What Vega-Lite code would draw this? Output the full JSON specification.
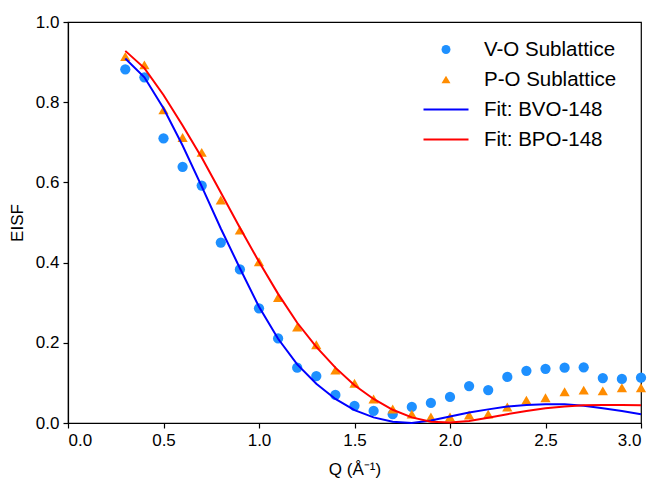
{
  "$schema": "https://vega.github.io/schema/vega-lite/v6.json",
  "width": 573,
  "height": 401,
  "autosize": {"type": "none"},
  "padding": {"left": 68, "top": 22, "right": 13, "bottom": 56},
  "background": "white",
  "config": {
    "view": {"stroke": "black", "strokeWidth": 1.2},
    "font": "Liberation Sans",
    "axis": {
      "grid": false,
      "domainColor": "black",
      "domainWidth": 1.2,
      "tickColor": "black",
      "tickWidth": 1.2,
      "tickSize": 5,
      "labelColor": "black",
      "titleColor": "black",
      "labelFont": "Liberation Sans",
      "titleFont": "Liberation Sans",
      "labelFontSize": 17,
      "titleFontSize": 17,
      "titleFontWeight": "normal",
      "labelPadding": 4
    },
    "legend": {
      "labelFont": "Liberation Sans",
      "labelFontSize": 20.5,
      "labelColor": "black",
      "padding": 0,
      "clipHeight": 21,
      "rowPadding": 9,
      "symbolOpacity": 1
    }
  },
  "data": {
    "values": [
      {"Q": 0.3, "EISF": 0.882, "series": "V-O Sublattice"},
      {"Q": 0.4, "EISF": 0.862, "series": "V-O Sublattice"},
      {"Q": 0.5, "EISF": 0.71, "series": "V-O Sublattice"},
      {"Q": 0.6, "EISF": 0.639, "series": "V-O Sublattice"},
      {"Q": 0.7, "EISF": 0.592, "series": "V-O Sublattice"},
      {"Q": 0.8, "EISF": 0.45, "series": "V-O Sublattice"},
      {"Q": 0.9, "EISF": 0.383, "series": "V-O Sublattice"},
      {"Q": 1.0, "EISF": 0.286, "series": "V-O Sublattice"},
      {"Q": 1.1, "EISF": 0.211, "series": "V-O Sublattice"},
      {"Q": 1.2, "EISF": 0.138, "series": "V-O Sublattice"},
      {"Q": 1.3, "EISF": 0.117, "series": "V-O Sublattice"},
      {"Q": 1.4, "EISF": 0.07, "series": "V-O Sublattice"},
      {"Q": 1.5, "EISF": 0.043, "series": "V-O Sublattice"},
      {"Q": 1.6, "EISF": 0.03, "series": "V-O Sublattice"},
      {"Q": 1.7, "EISF": 0.022, "series": "V-O Sublattice"},
      {"Q": 1.8, "EISF": 0.04, "series": "V-O Sublattice"},
      {"Q": 1.9, "EISF": 0.05, "series": "V-O Sublattice"},
      {"Q": 2.0, "EISF": 0.065, "series": "V-O Sublattice"},
      {"Q": 2.1, "EISF": 0.092, "series": "V-O Sublattice"},
      {"Q": 2.2, "EISF": 0.082, "series": "V-O Sublattice"},
      {"Q": 2.3, "EISF": 0.115, "series": "V-O Sublattice"},
      {"Q": 2.4, "EISF": 0.13, "series": "V-O Sublattice"},
      {"Q": 2.5, "EISF": 0.135, "series": "V-O Sublattice"},
      {"Q": 2.6, "EISF": 0.138, "series": "V-O Sublattice"},
      {"Q": 2.7, "EISF": 0.139, "series": "V-O Sublattice"},
      {"Q": 2.8, "EISF": 0.112, "series": "V-O Sublattice"},
      {"Q": 2.9, "EISF": 0.11, "series": "V-O Sublattice"},
      {"Q": 3.0, "EISF": 0.113, "series": "V-O Sublattice"},
      {"Q": 0.3, "EISF": 0.914, "series": "P-O Sublattice"},
      {"Q": 0.4, "EISF": 0.893, "series": "P-O Sublattice"},
      {"Q": 0.5, "EISF": 0.781, "series": "P-O Sublattice"},
      {"Q": 0.6, "EISF": 0.712, "series": "P-O Sublattice"},
      {"Q": 0.7, "EISF": 0.675, "series": "P-O Sublattice"},
      {"Q": 0.8, "EISF": 0.556, "series": "P-O Sublattice"},
      {"Q": 0.9, "EISF": 0.481, "series": "P-O Sublattice"},
      {"Q": 1.0, "EISF": 0.402, "series": "P-O Sublattice"},
      {"Q": 1.1, "EISF": 0.313, "series": "P-O Sublattice"},
      {"Q": 1.2, "EISF": 0.239, "series": "P-O Sublattice"},
      {"Q": 1.3, "EISF": 0.195, "series": "P-O Sublattice"},
      {"Q": 1.4, "EISF": 0.132, "series": "P-O Sublattice"},
      {"Q": 1.5, "EISF": 0.099, "series": "P-O Sublattice"},
      {"Q": 1.6, "EISF": 0.06, "series": "P-O Sublattice"},
      {"Q": 1.7, "EISF": 0.035, "series": "P-O Sublattice"},
      {"Q": 1.8, "EISF": 0.022, "series": "P-O Sublattice"},
      {"Q": 1.9, "EISF": 0.015, "series": "P-O Sublattice"},
      {"Q": 2.0, "EISF": 0.015, "series": "P-O Sublattice"},
      {"Q": 2.1, "EISF": 0.02, "series": "P-O Sublattice"},
      {"Q": 2.2, "EISF": 0.022, "series": "P-O Sublattice"},
      {"Q": 2.3, "EISF": 0.04, "series": "P-O Sublattice"},
      {"Q": 2.4, "EISF": 0.057, "series": "P-O Sublattice"},
      {"Q": 2.5, "EISF": 0.063, "series": "P-O Sublattice"},
      {"Q": 2.6, "EISF": 0.078, "series": "P-O Sublattice"},
      {"Q": 2.7, "EISF": 0.082, "series": "P-O Sublattice"},
      {"Q": 2.8, "EISF": 0.08, "series": "P-O Sublattice"},
      {"Q": 2.9, "EISF": 0.088, "series": "P-O Sublattice"},
      {"Q": 3.0, "EISF": 0.088, "series": "P-O Sublattice"},
      {"Q": 0.3, "EISF": 0.909, "series": "Fit: BVO-148"},
      {"Q": 0.4, "EISF": 0.862, "series": "Fit: BVO-148"},
      {"Q": 0.5, "EISF": 0.785, "series": "Fit: BVO-148"},
      {"Q": 0.6, "EISF": 0.692, "series": "Fit: BVO-148"},
      {"Q": 0.7, "EISF": 0.59, "series": "Fit: BVO-148"},
      {"Q": 0.8, "EISF": 0.485, "series": "Fit: BVO-148"},
      {"Q": 0.9, "EISF": 0.386, "series": "Fit: BVO-148"},
      {"Q": 1.0, "EISF": 0.29, "series": "Fit: BVO-148"},
      {"Q": 1.1, "EISF": 0.21, "series": "Fit: BVO-148"},
      {"Q": 1.2, "EISF": 0.146, "series": "Fit: BVO-148"},
      {"Q": 1.3, "EISF": 0.098, "series": "Fit: BVO-148"},
      {"Q": 1.4, "EISF": 0.06, "series": "Fit: BVO-148"},
      {"Q": 1.5, "EISF": 0.032, "series": "Fit: BVO-148"},
      {"Q": 1.6, "EISF": 0.014, "series": "Fit: BVO-148"},
      {"Q": 1.7, "EISF": 0.003, "series": "Fit: BVO-148"},
      {"Q": 1.8, "EISF": 0.0, "series": "Fit: BVO-148"},
      {"Q": 1.9, "EISF": 0.006, "series": "Fit: BVO-148"},
      {"Q": 2.0, "EISF": 0.016, "series": "Fit: BVO-148"},
      {"Q": 2.1, "EISF": 0.026, "series": "Fit: BVO-148"},
      {"Q": 2.2, "EISF": 0.034, "series": "Fit: BVO-148"},
      {"Q": 2.3, "EISF": 0.041, "series": "Fit: BVO-148"},
      {"Q": 2.4, "EISF": 0.045, "series": "Fit: BVO-148"},
      {"Q": 2.5, "EISF": 0.047, "series": "Fit: BVO-148"},
      {"Q": 2.6, "EISF": 0.047, "series": "Fit: BVO-148"},
      {"Q": 2.7, "EISF": 0.043, "series": "Fit: BVO-148"},
      {"Q": 2.8, "EISF": 0.037, "series": "Fit: BVO-148"},
      {"Q": 2.9, "EISF": 0.03, "series": "Fit: BVO-148"},
      {"Q": 3.0, "EISF": 0.022, "series": "Fit: BVO-148"},
      {"Q": 0.3, "EISF": 0.928, "series": "Fit: BPO-148"},
      {"Q": 0.4, "EISF": 0.885, "series": "Fit: BPO-148"},
      {"Q": 0.5, "EISF": 0.818, "series": "Fit: BPO-148"},
      {"Q": 0.6, "EISF": 0.742, "series": "Fit: BPO-148"},
      {"Q": 0.7, "EISF": 0.662, "series": "Fit: BPO-148"},
      {"Q": 0.8, "EISF": 0.575, "series": "Fit: BPO-148"},
      {"Q": 0.9, "EISF": 0.487, "series": "Fit: BPO-148"},
      {"Q": 1.0, "EISF": 0.402, "series": "Fit: BPO-148"},
      {"Q": 1.1, "EISF": 0.322, "series": "Fit: BPO-148"},
      {"Q": 1.2, "EISF": 0.25, "series": "Fit: BPO-148"},
      {"Q": 1.3, "EISF": 0.19, "series": "Fit: BPO-148"},
      {"Q": 1.4, "EISF": 0.138, "series": "Fit: BPO-148"},
      {"Q": 1.5, "EISF": 0.094, "series": "Fit: BPO-148"},
      {"Q": 1.6, "EISF": 0.06, "series": "Fit: BPO-148"},
      {"Q": 1.7, "EISF": 0.033, "series": "Fit: BPO-148"},
      {"Q": 1.8, "EISF": 0.014, "series": "Fit: BPO-148"},
      {"Q": 1.9, "EISF": 0.003, "series": "Fit: BPO-148"},
      {"Q": 2.0, "EISF": 0.001, "series": "Fit: BPO-148"},
      {"Q": 2.1, "EISF": 0.005, "series": "Fit: BPO-148"},
      {"Q": 2.2, "EISF": 0.013, "series": "Fit: BPO-148"},
      {"Q": 2.3, "EISF": 0.022, "series": "Fit: BPO-148"},
      {"Q": 2.4, "EISF": 0.03, "series": "Fit: BPO-148"},
      {"Q": 2.5, "EISF": 0.037, "series": "Fit: BPO-148"},
      {"Q": 2.6, "EISF": 0.041, "series": "Fit: BPO-148"},
      {"Q": 2.7, "EISF": 0.044, "series": "Fit: BPO-148"},
      {"Q": 2.8, "EISF": 0.045, "series": "Fit: BPO-148"},
      {"Q": 2.9, "EISF": 0.045, "series": "Fit: BPO-148"},
      {"Q": 3.0, "EISF": 0.044, "series": "Fit: BPO-148"}
    ]
  },
  "encoding": {
    "x": {
      "field": "Q",
      "type": "quantitative",
      "scale": {"domain": [0, 3], "nice": false, "zero": false},
      "axis": {"title": "Q (Å⁻¹)", "values": [0, 0.5, 1, 1.5, 2, 2.5, 3], "format": ".1f", "titlePadding": 13}
    },
    "y": {
      "field": "EISF",
      "type": "quantitative",
      "scale": {"domain": [0, 1], "nice": false},
      "axis": {"title": "EISF", "values": [0, 0.2, 0.4, 0.6, 0.8, 1.0], "format": ".1f", "titlePadding": 9}
    }
  },
  "layer": [
    {
      "transform": [{"filter": "indexof(datum.series, 'Sublattice') > 0"}],
      "mark": {"type": "point", "filled": true, "size": 105, "opacity": 1, "strokeWidth": 0},
      "encoding": {
        "fill": {
          "field": "series",
          "type": "nominal",
          "scale": {"domain": ["V-O Sublattice", "P-O Sublattice"], "range": ["#1E90FF", "#FF8C00"]},
          "legend": {
            "title": null,
            "orient": "none",
            "legendX": 367.75,
            "legendY": 17,
            "labelOffset": 27.75,
            "symbolSize": 80,
            "symbolStrokeWidth": 0
          }
        },
        "shape": {
          "field": "series",
          "type": "nominal",
          "scale": {"domain": ["V-O Sublattice", "P-O Sublattice"], "range": ["circle", "triangle-up"]},
          "legend": {
            "title": null,
            "orient": "none",
            "legendX": 367.75,
            "legendY": 17,
            "labelOffset": 27.75,
            "symbolSize": 80,
            "symbolStrokeWidth": 0
          }
        }
      }
    },
    {
      "transform": [{"filter": "indexof(datum.series, 'Fit') === 0"}],
      "mark": {"type": "line", "strokeWidth": 2, "interpolate": "linear"},
      "encoding": {
        "stroke": {
          "field": "series",
          "type": "nominal",
          "scale": {"domain": ["Fit: BVO-148", "Fit: BPO-148"], "range": ["#0000FF", "#FF0000"]},
          "legend": {
            "title": null,
            "orient": "none",
            "legendX": 354.5,
            "legendY": 77,
            "labelOffset": 14.5,
            "symbolType": "stroke",
            "symbolSize": 2025,
            "symbolStrokeWidth": 2
          }
        }
      }
    }
  ]
}
